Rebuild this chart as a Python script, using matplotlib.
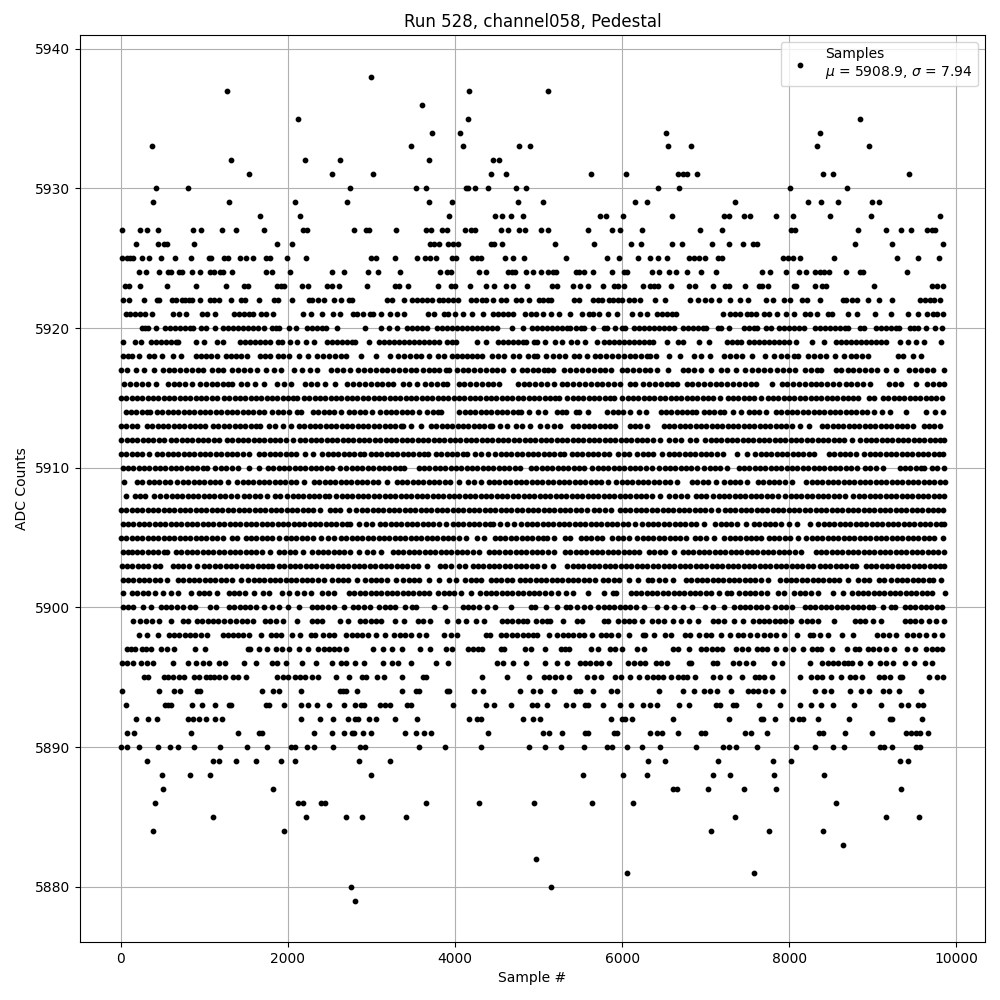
import matplotlib
matplotlib.use("Agg")
import matplotlib.pyplot as plt

# Sample numbers per ADC level.
# Outer rows: dots read individually. Rows 5896-5920: dots merge into runs, so run
# extents were read and the dots typed about one marker width apart (estimates).
s5938 = [2996]
s5937 = [1268, 4172, 5112]
s5936 = [3608]
s5935 = [2120, 4160, 8844]
s5934 = [3728, 4064, 6524, 8364]
s5933 = [368, 3476, 4100, 4760, 4892, 6552, 6828, 8328, 8952]
s5932 = [1316, 2204, 2624, 3692, 4460, 4532]
s5931 = [1532, 2528, 3020, 4436, 4616, 5624, 6048, 6672, 6732, 6780, 6900, 8400, 8520, 9432]
s5930 = [416, 800, 2744, 3536, 3656, 4136, 4152, 4236, 4400, 4724, 4844, 6432, 6684, 8016, 8688]
s5929 = [380, 1292, 2084, 2708, 3692, 3968, 4748, 5052, 6156, 6300, 7356, 8220, 8376, 8580, 8988, 9072]
s5928 = [1664, 2144, 3932, 4484, 4568, 4676, 4808, 5736, 5808, 6012, 6600, 7224, 7284, 7464, 7532, 7848, 8052, 8484, 8976, 9804]
s5927 = [8, 224, 308, 440, 860, 956, 1208, 1376, 1712, 2180, 2228, 2792, 2932, 2972, 3296, 3656, 3716, 3848, 3908, 4124, 4196, 4240, 4556, 4640, 4760, 4832, 5028, 5112, 5592, 5880, 5976, 6240, 6936, 7200, 8028, 8076, 8820, 9156, 9336, 9456, 9648, 9708, 9748]
s5926 = [176, 440, 520, 556, 872, 1868, 2048, 3704, 3752, 3812, 3920, 3980, 4040, 4436, 4472, 4568, 5196, 5664, 6108, 6228, 6600, 6720, 7080, 7284, 7452, 7572, 7612, 8784, 9228, 9840]
s5925 = [8, 68, 104, 140, 248, 332, 476, 644, 836, 1052, 1084, 1232, 1280, 1424, 1496, 1580, 1736, 1780, 1988, 2216, 2996, 3056, 3284, 3548, 3644, 3704, 3776, 3968, 4016, 4208, 4260, 4316, 4604, 4700, 4820, 5328, 5820, 5964, 6192, 6336, 6432, 6540, 6804, 6864, 6924, 6996, 7152, 7192, 7932, 7992, 8052, 8136, 8532, 9292, 9540, 9792]
s5924 = [212, 300, 452, 560, 600, 700, 732, 848, 944, 1064, 1112, 1188, 1228, 1328, 1736, 1808, 2024, 2528, 2672, 2960, 3080, 3344, 3824, 3900, 3948, 4292, 4376, 4640, 4680, 4720, 4848, 4928, 5028, 5112, 5172, 5212, 5448, 5484, 5544, 5652, 5880, 6024, 6060, 6360, 6444, 6564, 6648, 6780, 6948, 7128, 7680, 7776, 7968, 8124, 8196, 8304, 8364, 8412, 8480, 8676, 8844, 8880, 9408]
s5923 = [44, 100, 224, 548, 896, 1256, 1472, 1520, 1868, 1916, 1952, 2168, 2240, 2468, 2528, 2612, 2948, 3284, 3332, 3440, 3800, 3956, 4004, 4184, 4376, 4472, 4616, 4700, 4856, 5164, 5220, 5412, 5496, 5592, 5772, 5904, 5952, 6024, 6252, 6336, 6384, 6432, 6588, 6804, 6876, 7092, 7236, 7284, 7476, 7644, 7680, 7752, 8064, 8088, 8304, 8388, 8436, 9012, 9708, 9768, 9840]
s5922 = [20, 92, 272, 428, 452, 608, 660, 728, 770, 810, 850, 944, 1064, 1112, 1172, 1316, 1436, 1484, 1652, 1832, 1880, 2048, 2252, 2288, 2360, 2432, 2552, 2636, 2732, 2768, 3188, 3248, 3388, 3488, 3548, 3608, 3668, 3728, 3812, 3860, 3920, 3980, 4040, 4196, 4256, 4328, 4376, 4460, 4556, 4616, 4724, 4784, 4880, 5000, 5052, 5112, 5152, 5424, 5484, 5652, 5712, 5760, 5844, 5892, 5952, 6000, 6084, 6144, 6216, 6396, 6516, 6816, 6912, 6996, 7068, 7164, 7296, 7416, 7512, 7728, 7812, 7944, 8016, 8160, 8208, 8364, 8640, 8676, 8748, 8808, 8940, 9072, 9228, 9564, 9624, 9684, 9732, 9804]
s5921 = [56, 104, 164, 224, 284, 368, 620, 692, 776, 968, 1028, 1124, 1352, 1412, 1472, 1532, 1580, 1676, 1736, 1820, 2180, 2276, 2408, 2540, 2624, 2780, 2828, 2900, 2980, 3020, 3116, 3224, 3308, 3392, 3680, 3752, 3872, 3920, 4004, 4100, 4208, 4340, 4460, 4520, 4580, 4640, 4700, 4832, 4904, 4964, 5056, 5152, 5244, 5380, 5520, 5604, 5652, 5724, 5832, 5940, 6120, 6216, 6300, 6420, 6480, 6540, 6600, 6648, 7212, 7296, 7356, 7416, 7492, 7548, 7608, 7704, 7764, 7860, 7968, 8064, 8184, 8244, 8328, 8460, 8508, 8700, 8808, 9024, 9216, 9420, 9540, 9648, 9720, 9768, 9840]
s5920 = [252, 290, 328, 416, 532, 590, 650, 710, 770, 830, 868, 960, 1016, 1124, 1220, 1280, 1340, 1400, 1460, 1520, 1580, 1640, 1708, 1804, 1860, 1892, 2008, 2096, 2232, 2290, 2350, 2410, 2456, 2588, 2924, 3116, 3212, 3308, 3420, 3480, 3540, 3600, 3668, 3780, 3840, 3900, 3960, 4020, 4080, 4140, 4200, 4260, 4320, 4380, 4440, 4500, 4684, 4808, 4924, 4980, 5040, 5100, 5160, 5220, 5280, 5340, 5380, 5452, 5512, 5548, 5652, 5784, 5820, 5912, 6004, 6040, 6144, 6204, 6264, 6324, 6384, 6444, 6504, 6564, 6620, 6724, 6784, 6844, 6904, 6964, 7000, 7144, 7180, 7284, 7464, 7524, 7584, 7620, 7724, 7780, 7884, 7944, 8004, 8064, 8124, 8180, 8304, 8364, 8424, 8484, 8544, 8604, 8664, 8700, 8852, 8900, 9044, 9104, 9164, 9224, 9284, 9320, 9444, 9500, 9548, 9644, 9744, 9832]
s5919 = [20, 172, 236, 360, 420, 480, 540, 600, 660, 688, 896, 996, 1152, 1228, 1424, 1484, 1544, 1604, 1664, 1724, 1788, 1884, 1928, 2024, 2108, 2216, 2312, 2472, 2532, 2592, 2652, 2712, 2772, 2808, 2968, 3084, 3144, 3204, 3264, 3324, 3384, 3444, 3504, 3564, 3624, 3684, 3744, 3804, 3900, 3960, 4008, 4260, 4368, 4512, 4572, 4632, 4692, 4752, 4812, 4848, 4944, 4980, 5072, 5196, 5280, 5384, 5460, 5556, 5700, 5784, 5844, 5904, 5964, 6024, 6084, 6144, 6204, 6264, 6324, 6372, 6532, 6668, 6732, 6916, 7040, 7252, 7312, 7372, 7420, 7524, 7584, 7644, 7704, 7764, 7824, 7884, 7944, 8000, 8084, 8276, 8420, 8556, 8616, 8676, 8736, 8796, 8856, 8916, 8976, 9036, 9096, 9156, 9324, 9420, 9524, 9620, 9820]
s5918 = [20, 80, 128, 220, 332, 400, 488, 620, 716, 900, 960, 1020, 1080, 1148, 1252, 1312, 1372, 1432, 1508, 1664, 1724, 1788, 1884, 1944, 2012, 2132, 2236, 2352, 2420, 2490, 2560, 2630, 2696, 2880, 3048, 3220, 3320, 3390, 3460, 3530, 3596, 3688, 3792, 3868, 3960, 4020, 4080, 4140, 4200, 4260, 4328, 4440, 4510, 4588, 4692, 4768, 4872, 4944, 4980, 5092, 5170, 5250, 5320, 5424, 5480, 5580, 5672, 5740, 5810, 5880, 5950, 6020, 6090, 6160, 6230, 6300, 6332, 6412, 6564, 6692, 6864, 6948, 7056, 7216, 7290, 7365, 7440, 7552, 7716, 7824, 7900, 7980, 8060, 8108, 8224, 8300, 8370, 8440, 8544, 8660, 8736, 8800, 8870, 8940, 9304, 9360, 9484, 9580]
s5917 = [0, 72, 180, 276, 396, 504, 570, 640, 710, 780, 850, 920, 980, 1092, 1160, 1228, 1332, 1400, 1470, 1540, 1628, 1736, 1832, 1916, 2076, 2168, 2260, 2352, 2520, 2590, 2660, 2748, 2844, 2910, 2980, 3050, 3120, 3190, 3260, 3330, 3400, 3470, 3528, 3620, 3690, 3750, 3808, 3892, 3928, 4020, 4090, 4160, 4230, 4300, 4370, 4440, 4500, 4580, 4692, 4796, 4860, 4930, 4990, 5060, 5110, 5172, 5308, 5380, 5450, 5520, 5590, 5660, 5730, 5800, 5868, 5996, 6060, 6130, 6200, 6270, 6340, 6420, 6552, 6724, 6790, 6860, 6948, 7068, 7184, 7260, 7360, 7476, 7550, 7625, 7700, 7775, 7850, 7925, 8000, 8068, 8188, 8260, 8330, 8380, 8556, 8625, 8700, 8770, 8840, 8910, 8980, 9052, 9156, 9280, 9436, 9510, 9580, 9650, 9720, 9852]
s5916 = [32, 112, 180, 250, 320, 420, 564, 630, 700, 770, 848, 948, 1015, 1085, 1155, 1225, 1280, 1328, 1440, 1508, 1600, 1716, 1872, 1950, 2036, 2204, 2280, 2348, 2444, 2568, 2712, 2780, 2850, 2920, 2990, 3060, 3130, 3200, 3260, 3372, 3450, 3548, 3644, 3710, 3780, 3850, 3908, 4044, 4110, 4180, 4250, 4320, 4390, 4460, 4528, 4752, 4820, 4890, 4960, 5030, 5100, 5180, 5276, 5345, 5415, 5485, 5555, 5625, 5695, 5765, 5835, 5905, 5975, 6092, 6160, 6256, 6325, 6395, 6465, 6535, 6600, 6660, 6772, 6840, 6910, 6980, 7050, 7120, 7190, 7260, 7330, 7400, 7470, 7540, 7608, 7800, 7912, 7980, 8050, 8120, 8190, 8260, 8320, 8380, 8452, 8520, 8600, 8676, 8745, 8815, 8885, 8972, 9196, 9270, 9340, 9524, 9652, 9720, 9790, 9860]
s5915 = [0, 64, 128, 192, 256, 320, 384, 448, 512, 576, 640, 704, 768, 832, 896, 960, 1024, 1088, 1148, 1232, 1296, 1360, 1424, 1488, 1552, 1616, 1680, 1744, 1808, 1872, 1936, 2000, 2064, 2108, 2192, 2256, 2320, 2384, 2448, 2512, 2576, 2640, 2704, 2768, 2832, 2896, 2960, 3024, 3088, 3152, 3216, 3280, 3344, 3408, 3472, 3536, 3600, 3664, 3728, 3792, 3856, 3920, 3984, 4048, 4112, 4176, 4240, 4304, 4368, 4432, 4496, 4560, 4624, 4688, 4752, 4816, 4880, 4944, 5008, 5072, 5136, 5200, 5248, 5344, 5408, 5472, 5536, 5600, 5664, 5728, 5792, 5856, 5908, 6004, 6068, 6132, 6196, 6260, 6324, 6388, 6452, 6516, 6580, 6644, 6708, 6772, 6836, 6900, 6964, 7028, 7092, 7172, 7264, 7328, 7392, 7456, 7520, 7584, 7660, 7744, 7808, 7872, 7936, 8000, 8064, 8128, 8192, 8256, 8320, 8384, 8448, 8512, 8576, 8640, 8704, 8768, 8820, 8956, 9020, 9124, 9188, 9252, 9316, 9380, 9444, 9508, 9572, 9636, 9700, 9764, 9828]
s5914 = [56, 120, 184, 248, 312, 348, 432, 496, 560, 624, 688, 752, 816, 880, 944, 1008, 1072, 1136, 1200, 1264, 1328, 1392, 1456, 1520, 1584, 1648, 1708, 1812, 1876, 1940, 2012, 2112, 2156, 2300, 2364, 2428, 2492, 2556, 2636, 2732, 2796, 2860, 2924, 3008, 3104, 3168, 3232, 3296, 3360, 3424, 3488, 3564, 3668, 3732, 3796, 3836, 4052, 4116, 4180, 4244, 4308, 4372, 4436, 4500, 4564, 4628, 4692, 4756, 4788, 4880, 4996, 5080, 5224, 5280, 5332, 5452, 5480, 5592, 5824, 5888, 5952, 6016, 6100, 6204, 6292, 6460, 6524, 6588, 6652, 6716, 6780, 6836, 6880, 6976, 7040, 7104, 7168, 7220, 7324, 7420, 7516, 7580, 7644, 7720, 7844, 7908, 7972, 8036, 8100, 8164, 8228, 8292, 8356, 8420, 8484, 8548, 8612, 8676, 8740, 8804, 8868, 8932, 9020, 9116, 9212, 9396, 9644, 9744, 9844]
s5913 = [0, 64, 128, 188, 312, 376, 440, 504, 568, 632, 696, 760, 824, 888, 952, 1008, 1104, 1168, 1232, 1296, 1360, 1424, 1488, 1552, 1616, 1668, 1776, 1840, 1940, 2036, 2132, 2196, 2260, 2324, 2388, 2452, 2516, 2580, 2644, 2708, 2772, 2836, 2900, 2964, 3028, 3092, 3156, 3220, 3284, 3348, 3380, 3472, 3596, 3712, 3776, 3840, 3904, 3968, 4032, 4096, 4160, 4224, 4288, 4352, 4416, 4448, 4544, 4628, 4724, 4796, 4900, 5012, 5104, 5180, 5260, 5412, 5476, 5540, 5604, 5668, 5732, 5796, 5860, 5920, 6092, 6156, 6220, 6300, 6496, 6560, 6624, 6688, 6752, 6816, 6880, 6944, 7008, 7072, 7136, 7200, 7264, 7328, 7392, 7456, 7520, 7584, 7648, 7712, 7776, 7840, 7904, 7968, 8040, 8136, 8232, 8392, 8456, 8520, 8584, 8648, 8712, 8776, 8840, 8904, 8968, 9032, 9096, 9160, 9224, 9288, 9352, 9416, 9480, 9612, 9676, 9740, 9812]
s5912 = [4, 68, 132, 196, 260, 324, 388, 452, 516, 600, 664, 728, 792, 856, 920, 984, 1048, 1112, 1172, 1268, 1332, 1396, 1460, 1524, 1588, 1652, 1716, 1780, 1844, 1908, 1972, 2060, 2144, 2208, 2272, 2336, 2400, 2464, 2528, 2592, 2656, 2720, 2784, 2848, 2912, 2976, 3040, 3104, 3168, 3232, 3296, 3360, 3424, 3488, 3552, 3616, 3680, 3744, 3808, 3872, 3936, 4000, 4064, 4128, 4192, 4256, 4320, 4384, 4448, 4512, 4576, 4640, 4704, 4768, 4832, 4896, 4960, 5024, 5088, 5152, 5216, 5280, 5344, 5408, 5472, 5536, 5600, 5664, 5728, 5792, 5856, 5920, 5984, 6048, 6112, 6176, 6240, 6304, 6368, 6452, 6556, 6630, 6708, 6812, 6888, 6996, 7060, 7124, 7188, 7252, 7316, 7380, 7444, 7508, 7572, 7636, 7700, 7764, 7828, 7892, 7956, 8020, 8084, 8148, 8212, 8276, 8340, 8404, 8468, 8532, 8596, 8660, 8748, 8852, 8916, 8980, 9044, 9108, 9172, 9236, 9300, 9364, 9428, 9492, 9556, 9620, 9684, 9748, 9812, 9860]
s5911 = [0, 64, 128, 192, 256, 340, 432, 496, 560, 624, 688, 752, 816, 880, 944, 1008, 1072, 1136, 1200, 1264, 1328, 1392, 1456, 1528, 1652, 1716, 1780, 1844, 1908, 1972, 2036, 2100, 2200, 2296, 2412, 2476, 2540, 2604, 2668, 2732, 2796, 2860, 2908, 2988, 3052, 3116, 3180, 3244, 3308, 3372, 3436, 3500, 3564, 3628, 3676, 3772, 3836, 3900, 3964, 4028, 4092, 4148, 4244, 4308, 4396, 4484, 4548, 4612, 4676, 4740, 4804, 4868, 4932, 4996, 5060, 5124, 5188, 5252, 5300, 5396, 5460, 5524, 5588, 5652, 5716, 5780, 5848, 5956, 6020, 6080, 6184, 6248, 6312, 6376, 6472, 6556, 6620, 6684, 6748, 6812, 6876, 6940, 7004, 7068, 7132, 7212, 7376, 7492, 7596, 7660, 7724, 7788, 7852, 7916, 7980, 8044, 8108, 8172, 8236, 8292, 8476, 8540, 8604, 8668, 8732, 8796, 8892, 8964, 9028, 9092, 9156, 9220, 9284, 9348, 9412, 9476, 9540, 9604, 9668, 9732, 9796, 9844]
s5910 = [20, 84, 148, 212, 276, 340, 404, 468, 532, 596, 660, 724, 788, 852, 916, 980, 1036, 1132, 1196, 1260, 1324, 1400, 1532, 1652, 1760, 1824, 1888, 1952, 2016, 2080, 2144, 2208, 2272, 2336, 2400, 2464, 2528, 2628, 2700, 2764, 2828, 2892, 2956, 3020, 3084, 3148, 3212, 3276, 3340, 3388, 3564, 3628, 3692, 3756, 3820, 3884, 3948, 4012, 4076, 4140, 4204, 4268, 4332, 4396, 4460, 4524, 4588, 4652, 4716, 4780, 4908, 4972, 5036, 5100, 5164, 5228, 5292, 5356, 5420, 5484, 5540, 5644, 5708, 5772, 5836, 5900, 5964, 6028, 6092, 6156, 6220, 6284, 6360, 6444, 6508, 6572, 6636, 6700, 6764, 6828, 6900, 6984, 7048, 7112, 7176, 7260, 7396, 7460, 7524, 7588, 7652, 7716, 7780, 7844, 7908, 7972, 8036, 8100, 8164, 8228, 8292, 8356, 8420, 8484, 8548, 8612, 8676, 8740, 8816, 8908, 8972, 9036, 9120, 9324, 9388, 9452, 9516, 9580, 9620, 9708, 9772, 9852]
s5909 = [40, 192, 248, 332, 396, 460, 524, 588, 668, 744, 808, 872, 936, 1000, 1064, 1128, 1192, 1276, 1392, 1456, 1520, 1584, 1648, 1712, 1776, 1840, 1904, 1968, 2032, 2096, 2188, 2312, 2376, 2440, 2504, 2568, 2632, 2696, 2760, 2824, 2888, 2952, 3016, 3080, 3188, 3300, 3364, 3428, 3492, 3556, 3620, 3684, 3748, 3812, 3876, 3940, 4048, 4152, 4230, 4308, 4404, 4468, 4532, 4596, 4660, 4724, 4788, 4852, 4916, 4980, 5040, 5112, 5176, 5240, 5304, 5368, 5432, 5496, 5560, 5624, 5688, 5752, 5832, 5932, 5996, 6060, 6124, 6188, 6252, 6316, 6380, 6444, 6508, 6572, 6660, 6836, 6900, 6964, 7028, 7120, 7224, 7288, 7352, 7416, 7500, 7628, 7692, 7756, 7820, 7884, 7948, 8040, 8204, 8268, 8332, 8396, 8460, 8524, 8588, 8652, 8716, 8780, 8844, 8908, 8972, 9036, 9100, 9164, 9228, 9292, 9356, 9420, 9484, 9548, 9612, 9676, 9740, 9804, 9868]
s5908 = [64, 164, 228, 292, 396, 464, 544, 608, 672, 736, 800, 864, 928, 992, 1056, 1120, 1184, 1248, 1312, 1388, 1472, 1536, 1600, 1664, 1748, 1844, 1900, 1992, 2056, 2120, 2184, 2248, 2312, 2376, 2440, 2496, 2580, 2644, 2708, 2772, 2836, 2900, 2964, 3028, 3092, 3156, 3220, 3284, 3348, 3412, 3476, 3540, 3604, 3668, 3732, 3796, 3860, 3924, 3988, 4052, 4116, 4180, 4244, 4308, 4372, 4436, 4500, 4564, 4628, 4692, 4756, 4820, 4884, 4948, 5012, 5076, 5140, 5204, 5268, 5332, 5396, 5460, 5524, 5588, 5652, 5716, 5780, 5844, 5908, 5972, 6036, 6100, 6164, 6228, 6292, 6356, 6452, 6564, 6628, 6700, 6780, 6884, 6940, 7000, 7092, 7156, 7220, 7284, 7348, 7412, 7476, 7540, 7604, 7668, 7732, 7796, 7868, 7956, 8020, 8084, 8148, 8212, 8276, 8340, 8404, 8468, 8532, 8596, 8668, 8760, 8836, 8900, 8964, 9028, 9092, 9156, 9220, 9284, 9348, 9412, 9476, 9540, 9604, 9668, 9732, 9796, 9860]
s5907 = [0, 64, 128, 192, 256, 320, 384, 448, 512, 576, 640, 704, 768, 832, 896, 960, 1024, 1088, 1152, 1216, 1280, 1344, 1408, 1472, 1536, 1600, 1664, 1728, 1792, 1856, 1920, 1984, 2048, 2112, 2176, 2240, 2304, 2380, 2500, 2564, 2628, 2728, 2820, 2884, 2948, 3012, 3076, 3140, 3204, 3268, 3332, 3396, 3460, 3524, 3588, 3652, 3716, 3780, 3844, 3908, 3972, 4036, 4100, 4164, 4228, 4292, 4356, 4420, 4484, 4548, 4612, 4676, 4740, 4804, 4868, 4932, 4996, 5060, 5124, 5188, 5252, 5316, 5380, 5444, 5508, 5580, 5664, 5728, 5792, 5868, 5972, 6036, 6100, 6164, 6228, 6292, 6356, 6420, 6484, 6548, 6612, 6676, 6740, 6804, 6868, 6932, 6996, 7060, 7148, 7228, 7292, 7356, 7420, 7484, 7548, 7612, 7676, 7740, 7804, 7868, 7932, 7996, 8060, 8124, 8188, 8252, 8316, 8380, 8444, 8508, 8572, 8636, 8700, 8764, 8828, 8892, 8956, 9020, 9084, 9148, 9212, 9276, 9340, 9404, 9468, 9532, 9596, 9660, 9724, 9788, 9840]
s5906 = [20, 84, 148, 212, 276, 340, 404, 468, 532, 596, 660, 724, 788, 852, 916, 980, 1044, 1108, 1172, 1236, 1300, 1364, 1428, 1492, 1556, 1620, 1684, 1748, 1812, 1876, 1940, 2004, 2068, 2132, 2196, 2260, 2324, 2388, 2452, 2516, 2580, 2644, 2708, 2748, 2852, 2930, 3008, 3100, 3164, 3228, 3292, 3356, 3420, 3484, 3548, 3612, 3676, 3740, 3804, 3888, 3972, 4036, 4100, 4164, 4228, 4292, 4356, 4420, 4460, 4540, 4620, 4708, 4792, 4856, 4920, 4984, 5048, 5112, 5176, 5240, 5304, 5368, 5432, 5496, 5560, 5624, 5688, 5752, 5816, 5880, 5944, 6008, 6072, 6160, 6244, 6308, 6372, 6436, 6500, 6564, 6628, 6692, 6756, 6820, 6884, 6980, 7116, 7180, 7244, 7308, 7372, 7480, 7580, 7644, 7708, 7772, 7836, 7900, 8000, 8096, 8244, 8348, 8412, 8476, 8540, 8604, 8668, 8732, 8796, 8860, 8924, 8988, 9052, 9116, 9180, 9244, 9308, 9372, 9436, 9500, 9564, 9628, 9692, 9756, 9820, 9860]
s5905 = [0, 64, 128, 192, 256, 320, 384, 448, 512, 576, 640, 704, 768, 832, 896, 960, 1024, 1088, 1152, 1220, 1324, 1388, 1492, 1556, 1620, 1684, 1748, 1812, 1888, 1972, 2036, 2100, 2164, 2228, 2300, 2392, 2476, 2548, 2636, 2700, 2764, 2828, 2892, 2956, 3020, 3084, 3148, 3212, 3276, 3340, 3404, 3468, 3532, 3596, 3660, 3724, 3788, 3852, 3916, 3980, 4044, 4128, 4260, 4348, 4476, 4540, 4604, 4668, 4732, 4796, 4860, 4924, 4988, 5052, 5100, 5184, 5312, 5380, 5504, 5568, 5632, 5696, 5760, 5884, 5948, 6012, 6080, 6184, 6248, 6312, 6376, 6440, 6504, 6568, 6632, 6696, 6760, 6872, 6936, 7000, 7100, 7224, 7288, 7352, 7416, 7480, 7544, 7608, 7660, 7756, 7820, 7884, 7948, 8012, 8108, 8204, 8268, 8332, 8396, 8460, 8524, 8588, 8652, 8716, 8780, 8844, 8908, 8972, 9036, 9100, 9164, 9228, 9292, 9356, 9420, 9484, 9548, 9612, 9676, 9740, 9840]
s5904 = [20, 80, 128, 192, 256, 320, 384, 448, 512, 556, 660, 724, 788, 852, 916, 980, 1044, 1108, 1172, 1236, 1300, 1364, 1428, 1492, 1556, 1620, 1684, 1780, 1892, 1956, 2020, 2084, 2180, 2292, 2356, 2420, 2484, 2548, 2612, 2676, 2740, 2848, 2952, 3016, 3108, 3252, 3316, 3380, 3444, 3508, 3572, 3636, 3700, 3764, 3828, 3892, 3956, 4020, 4084, 4148, 4212, 4288, 4404, 4468, 4532, 4596, 4660, 4724, 4788, 4852, 4916, 4980, 5044, 5108, 5180, 5316, 5380, 5444, 5508, 5572, 5636, 5700, 5764, 5828, 5892, 5956, 6020, 6084, 6148, 6200, 6324, 6388, 6452, 6516, 6620, 6724, 6788, 6852, 6916, 6980, 7044, 7108, 7172, 7236, 7300, 7364, 7428, 7492, 7556, 7620, 7684, 7748, 7812, 7876, 7940, 8004, 8068, 8140, 8316, 8380, 8444, 8508, 8572, 8636, 8700, 8764, 8828, 8892, 8956, 9020, 9084, 9148, 9212, 9276, 9340, 9404, 9468, 9532, 9596, 9660, 9724, 9788, 9860]
s5903 = [8, 72, 136, 200, 264, 328, 408, 472, 620, 684, 748, 812, 908, 996, 1060, 1124, 1188, 1252, 1316, 1380, 1444, 1508, 1572, 1636, 1700, 1764, 1808, 1892, 1956, 2020, 2084, 2148, 2212, 2276, 2340, 2404, 2468, 2532, 2596, 2660, 2724, 2788, 2852, 2916, 2980, 3044, 3108, 3172, 3236, 3300, 3364, 3428, 3492, 3556, 3660, 3820, 3884, 3948, 4048, 4116, 4212, 4276, 4340, 4404, 4468, 4532, 4596, 4660, 4724, 4788, 4852, 4916, 4980, 5060, 5172, 5344, 5408, 5472, 5536, 5600, 5664, 5728, 5792, 5856, 5920, 5984, 6048, 6112, 6176, 6240, 6304, 6368, 6432, 6496, 6560, 6624, 6688, 6752, 6816, 6880, 6944, 7008, 7072, 7136, 7200, 7264, 7328, 7392, 7456, 7520, 7584, 7648, 7712, 7776, 7840, 7904, 7968, 8032, 8096, 8160, 8224, 8280, 8364, 8428, 8492, 8556, 8620, 8684, 8748, 8800, 8916, 8980, 9044, 9108, 9172, 9236, 9300, 9364, 9428, 9492, 9556, 9620, 9684, 9748, 9812, 9860]
s5902 = [20, 84, 148, 212, 276, 340, 404, 468, 548, 684, 748, 812, 876, 940, 1004, 1068, 1132, 1196, 1260, 1324, 1436, 1524, 1588, 1652, 1716, 1780, 1844, 1908, 1972, 2036, 2100, 2164, 2228, 2292, 2356, 2436, 2532, 2596, 2660, 2724, 2828, 2924, 2988, 3052, 3116, 3180, 3288, 3380, 3444, 3508, 3572, 3688, 3808, 3924, 4008, 4124, 4188, 4252, 4316, 4428, 4492, 4556, 4620, 4688, 4772, 4836, 4900, 4964, 5028, 5092, 5156, 5220, 5284, 5348, 5412, 5476, 5540, 5604, 5680, 5772, 5836, 5900, 5964, 6080, 6192, 6316, 6360, 6444, 6508, 6612, 6764, 6828, 6892, 6956, 7020, 7084, 7148, 7212, 7276, 7340, 7404, 7468, 7532, 7596, 7660, 7752, 7896, 7960, 8024, 8088, 8152, 8216, 8280, 8344, 8408, 8472, 8536, 8600, 8700, 8824, 8900, 8960, 9076, 9132, 9224, 9288, 9352, 9416, 9480, 9544, 9608, 9672, 9720, 9820]
s5901 = [20, 132, 196, 260, 324, 408, 504, 604, 684, 840, 932, 996, 1060, 1156, 1292, 1350, 1408, 1488, 1592, 1704, 1776, 1932, 2008, 2112, 2190, 2276, 2404, 2480, 2556, 2732, 2796, 2860, 2924, 2988, 3052, 3116, 3180, 3244, 3308, 3372, 3436, 3500, 3564, 3628, 3692, 3800, 3864, 3928, 3992, 4076, 4188, 4304, 4368, 4432, 4496, 4560, 4624, 4688, 4752, 4816, 4880, 4944, 5008, 5072, 5148, 5236, 5332, 5412, 5588, 5780, 5896, 5932, 6104, 6168, 6232, 6296, 6360, 6424, 6488, 6552, 6616, 6680, 6744, 6808, 6872, 6936, 7000, 7064, 7160, 7252, 7300, 7404, 7468, 7532, 7596, 7660, 7740, 7864, 7940, 8064, 8128, 8192, 8256, 8340, 8524, 8640, 8756, 8820, 8884, 8948, 9012, 9076, 9140, 9204, 9268, 9332, 9396, 9460, 9524, 9588, 9652, 9708, 9864]
s5900 = [20, 80, 140, 260, 364, 476, 540, 604, 668, 748, 824, 888, 1072, 1136, 1292, 1356, 1420, 1484, 1548, 1612, 1708, 1812, 1892, 2004, 2132, 2284, 2348, 2412, 2476, 2556, 2676, 2780, 2844, 2908, 2980, 3092, 3156, 3220, 3284, 3396, 3484, 3528, 3744, 3884, 4092, 4156, 4220, 4284, 4380, 4476, 4676, 4912, 4960, 5092, 5220, 5324, 5380, 5464, 5540, 5612, 5716, 5780, 5844, 5908, 5972, 6036, 6100, 6164, 6260, 6424, 6520, 6620, 6728, 6840, 6992, 7092, 7220, 7344, 7408, 7472, 7536, 7600, 7664, 7740, 7836, 7900, 7964, 8040, 8184, 8248, 8312, 8376, 8440, 8504, 8568, 8632, 8696, 8760, 8824, 8888, 8952, 9000, 9120, 9224, 9268, 9384, 9448, 9512, 9576, 9640, 9704, 9768, 9832]
s5899 = [140, 228, 300, 372, 452, 600, 744, 808, 912, 976, 1040, 1104, 1168, 1232, 1308, 1380, 1444, 1508, 1580, 1724, 1788, 1852, 1940, 2112, 2284, 2350, 2408, 2620, 2720, 2864, 2928, 2992, 3056, 3108, 3276, 3388, 3552, 3620, 3700, 3908, 4036, 4128, 4248, 4348, 4560, 4624, 4688, 4752, 4816, 4860, 4972, 5036, 5100, 5140, 5292, 5464, 5520, 5784, 5828, 5956, 6020, 6084, 6148, 6240, 6364, 6430, 6500, 6612, 6700, 6804, 6912, 7084, 7150, 7220, 7340, 7452, 7572, 7636, 7700, 7764, 7828, 7892, 7956, 8020, 8144, 8208, 8272, 8340, 8532, 8784, 8848, 8912, 9000, 9104, 9384, 9448, 9512, 9580, 9672, 9764, 9852]
s5898 = [220, 312, 440, 572, 636, 700, 764, 828, 892, 956, 1036, 1220, 1280, 1340, 1400, 1460, 1528, 1680, 1800, 1860, 1916, 2048, 2148, 2272, 2328, 2420, 2490, 2556, 2700, 2764, 2828, 2892, 2956, 3048, 3160, 3272, 3336, 3400, 3468, 3564, 3648, 3872, 3950, 4028, 4372, 4420, 4552, 4616, 4680, 4744, 4808, 4872, 4936, 4980, 5120, 5224, 5288, 5352, 5416, 5480, 5544, 5640, 5744, 5808, 5872, 5948, 6088, 6256, 6280, 6384, 6508, 6588, 6756, 6812, 6924, 7000, 7060, 7180, 7292, 7384, 7450, 7530, 7620, 7704, 7770, 7840, 7940, 8100, 8252, 8280, 8364, 8464, 8628, 8764, 9052, 9120, 9200, 9280, 9412, 9480, 9560, 9640, 9732, 9832]
s5897 = [72, 120, 168, 252, 300, 356, 480, 548, 632, 888, 1012, 1520, 1548, 1652, 1748, 1860, 1930, 2008, 2132, 2244, 2364, 2428, 2492, 2556, 2608, 2700, 3020, 3140, 3240, 3368, 3584, 3700, 3892, 3968, 4152, 4216, 4280, 4328, 4552, 4588, 4832, 4908, 5076, 5264, 5316, 5368, 5628, 5712, 5852, 5920, 6000, 6184, 6268, 6604, 6668, 6804, 6944, 7008, 7072, 7136, 7200, 7364, 7436, 7508, 7612, 7676, 7740, 7840, 7952, 8052, 8172, 8276, 8330, 8380, 8516, 8692, 8792, 8840, 8944, 9010, 9080, 9164, 9260, 9412, 9504, 9644, 9708, 9772, 9828]
s5896 = [12, 76, 140, 240, 312, 380, 624, 800, 904, 980, 1060, 1180, 1244, 1472, 1616, 1804, 1868, 1980, 2168, 2336, 2528, 2632, 2700, 2800, 2912, 3132, 3240, 3320, 3472, 3776, 3920, 4504, 4576, 4700, 4852, 5076, 5224, 5340, 5492, 5556, 5620, 5684, 5748, 5840, 6072, 6140, 6210, 6280, 6404, 6470, 6540, 6796, 6820, 7084, 7140, 7332, 7400, 7480, 7572, 7824, 7920, 8244, 8396, 8460, 8524, 8588, 8652, 8700, 8756, 8852, 8972, 9084, 9160, 9240, 9392, 9500, 9632, 9712]
s5895 = [272, 320, 512, 560, 620, 692, 752, 872, 932, 1016, 1064, 1112, 1172, 1244, 1340, 1400, 1496, 1868, 1940, 2000, 2084, 2144, 2204, 2284, 2360, 2576, 2732, 2888, 2936, 3068, 3152, 3368, 3620, 3656, 4328, 4628, 4880, 5064, 5124, 5196, 5268, 5364, 5580, 5664, 5748, 5916, 5988, 6096, 6204, 6300, 6372, 6432, 6492, 6588, 6672, 6732, 6780, 6876, 7092, 7176, 7284, 7440, 7596, 7644, 7704, 7800, 8136, 8256, 8328, 8388, 8496, 8616, 8724, 8784, 8868, 9072, 9132, 9204, 9324, 9348, 9672, 9768, 9840]
s5894 = [8, 452, 632, 704, 908, 944, 1688, 1820, 1892, 2156, 2624, 2660, 2696, 2828, 3368, 3536, 3572, 3908, 3932, 4232, 4340, 4772, 4928, 5012, 5184, 5448, 5496, 5652, 5868, 5940, 6444, 6732, 6864, 6984, 7056, 7140, 7308, 7512, 7572, 7632, 7716, 7800, 7932, 8304, 8412, 8496, 8724, 8856, 8952, 9120, 9192, 9312, 9576]
s5893 = [56, 524, 560, 600, 848, 968, 1124, 1292, 1316, 1736, 1772, 1952, 2156, 2240, 2348, 2492, 2672, 2804, 2876, 2912, 3104, 3164, 3224, 3428, 3476, 3980, 4376, 4472, 4676, 4916, 4976, 5100, 5328, 5412, 5556, 5592, 5772, 5976, 6108, 6252, 6336, 6420, 6684, 6804, 7128, 7176, 7332, 7368, 7644, 7896, 8136, 8256, 8376, 8520, 8772, 9096, 9336, 9420, 9540, 9600]
s5892 = [176, 320, 428, 800, 860, 932, 1016, 1124, 1208, 2156, 2384, 2540, 2720, 2804, 2840, 2972, 3056, 3284, 3548, 4172, 4268, 4316, 4808, 4928, 5016, 5868, 6000, 6036, 6120, 6612, 7284, 7668, 7692, 7836, 8040, 8124, 8172, 8340, 8712, 9204, 9228, 9588]
s5891 = [68, 152, 836, 1400, 1652, 1688, 2312, 2528, 2672, 2768, 2792, 2900, 2996, 3404, 3536, 3632, 3716, 4400, 5052, 5124, 5280, 5556, 5592, 5904, 5940, 6336, 6420, 6480, 6672, 6948, 6996, 7476, 7548, 7740, 8352, 8400, 8664, 8988, 9396, 9456, 9516, 9564, 9660]
s5890 = [0, 68, 212, 440, 584, 680, 872, 1184, 1508, 1748, 2036, 2084, 2228, 2312, 2540, 2864, 2924, 3572, 3884, 4316, 4880, 5076, 5268, 5544, 5820, 5880, 6060, 6240, 6456, 6888, 7212, 7284, 7368, 7620, 8088, 8304, 8520, 8652, 9084, 9132, 9228, 9516, 9564]
s5889 = [308, 1100, 1172, 1376, 1616, 1916, 2084, 2852, 3224, 6312, 6516, 7152, 7812, 8028, 9324, 9420]
s5888 = [488, 824, 1064, 2996, 5532, 6012, 6300, 7092, 7296, 7824, 8412]
s5887 = [500, 1820, 6612, 6660, 7032, 7464, 7848, 9336]
s5886 = [404, 2120, 2180, 2396, 2444, 3656, 4292, 4940, 5640, 6132, 8556]
s5885 = [1100, 2216, 2696, 2888, 3416, 7356, 9156, 9552]
s5884 = [380, 1952, 7068, 7764, 8400]
s5883 = [8640]
s5882 = [4964]
s5881 = [6060, 7584]
s5880 = [2756, 5148]
s5879 = [2804]

levels = {5938: s5938, 5937: s5937, 5936: s5936, 5935: s5935, 5934: s5934, 5933: s5933, 5932: s5932,
          5931: s5931, 5930: s5930, 5929: s5929, 5928: s5928, 5927: s5927, 5926: s5926, 5925: s5925,
          5924: s5924, 5923: s5923, 5922: s5922, 5921: s5921, 5920: s5920, 5919: s5919, 5918: s5918,
          5917: s5917, 5916: s5916, 5915: s5915, 5914: s5914, 5913: s5913, 5912: s5912, 5911: s5911,
          5910: s5910, 5909: s5909, 5908: s5908, 5907: s5907, 5906: s5906, 5905: s5905, 5904: s5904,
          5903: s5903, 5902: s5902, 5901: s5901, 5900: s5900, 5899: s5899, 5898: s5898, 5897: s5897,
          5896: s5896, 5895: s5895, 5894: s5894, 5893: s5893, 5892: s5892, 5891: s5891, 5890: s5890,
          5889: s5889, 5888: s5888, 5887: s5887, 5886: s5886, 5885: s5885, 5884: s5884, 5883: s5883,
          5882: s5882, 5881: s5881, 5880: s5880, 5879: s5879}

xs, ys = [], []
for adc, samples in levels.items():
    xs.extend(samples)
    ys.extend([adc] * len(samples))

fig = plt.figure(figsize=(10, 10), dpi=100)
ax = fig.add_axes([0.0800, 0.058, 0.9050, 0.907])
ax.plot(xs, ys, "k.", ms=6.3, label="Samples\n$\\mu$ = 5908.9, $\\sigma$ = 7.94")
ax.set_xlim(-490, 10345)
ax.set_ylim(5876.05, 5940.98)
ax.set_title("Run 528, channel058, Pedestal")
ax.set_xlabel("Sample #")
ax.set_ylabel("ADC Counts")
ax.grid(True)
ax.legend(loc="upper right")
fig.savefig("out.png", dpi=100)
